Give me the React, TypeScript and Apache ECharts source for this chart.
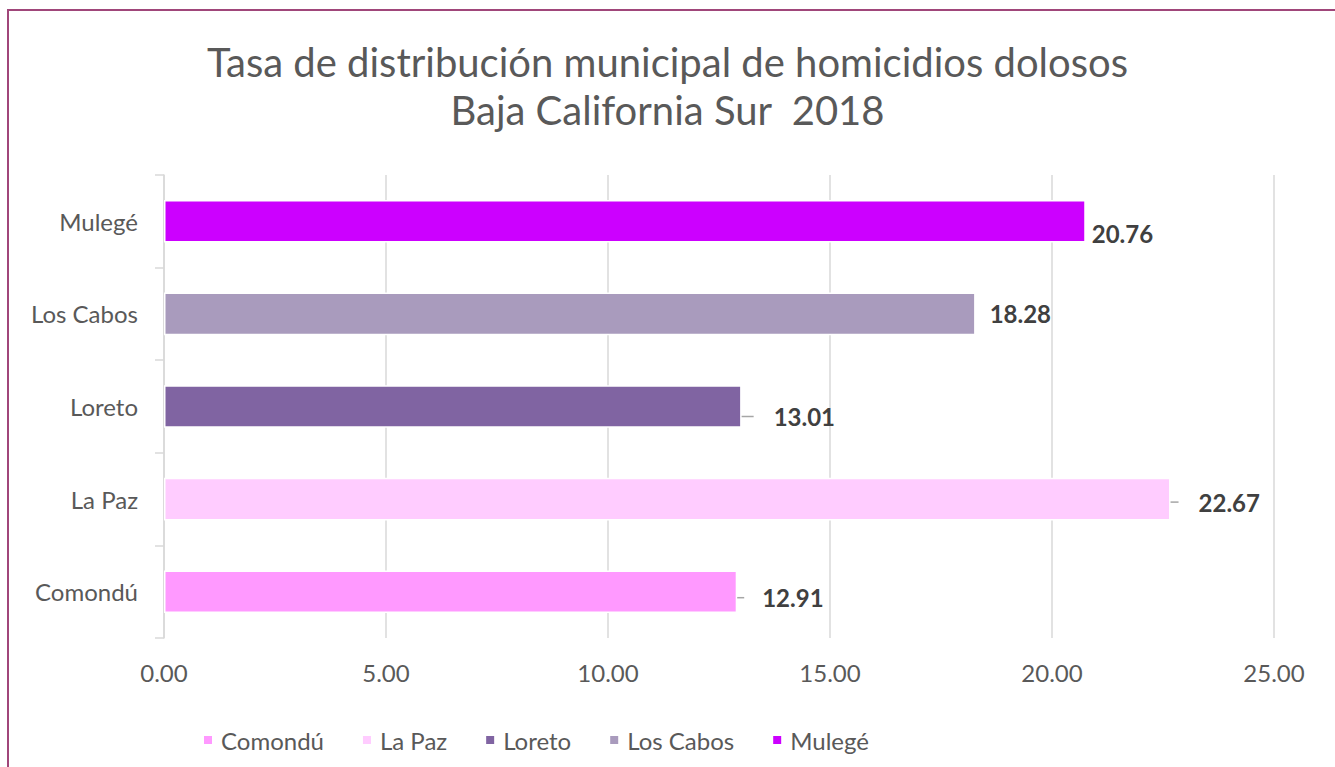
import React, { useEffect, useRef } from "react";
import * as echarts from "echarts";

const categories = ["Comondú", "La Paz", "Loreto", "Los Cabos", "Mulegé"];
const values = [12.91, 22.67, 13.01, 18.28, 20.76];
const colors = ["#FF99FF", "#FFCCFF", "#8064A2", "#A99BBD", "#CC00FF"];
const labelOffsets = [
  [5, 6],
  [6, 3],
  [10, 10],
  [0, 0],
  [-8, 12],
];
const labelPads = [18, 20, 20, 0, 0];
const xTicks = [0, 5, 10, 15, 20, 25];

export default function App() {
  const ref = useRef<HTMLDivElement>(null);
  useEffect(() => {
    const chart = echarts.init(ref.current!, undefined, { renderer: "svg" });
    const font = "Lato, 'Open Sans', sans-serif";
    const series = categories.map((name, i) => ({
      name,
      type: "bar",
      stack: "total",
      barWidth: "46%",
      data: categories.map((_, j) => (j === i ? values[i] : "-")),
      itemStyle: { color: colors[i], borderColor: "#ffffff", borderWidth: 1.5 },
      label: {
        show: true,
        position: "right",
        distance: labelPads[i] > 0 ? 2 : 14,
        formatter: (p: any) =>
          (labelPads[i] > 0 ? "{g|}" : "") + "{v|" + Number(p.value).toFixed(2) + "}",
        rich: {
          g: { width: labelPads[i], height: 10 },
          v: {
            fontFamily: font,
            fontSize: 24,
            fontWeight: "bold",
            color: "#404040",
          },
        },
        fontFamily: font,
        fontSize: 24,
        fontWeight: "bold",
        color: "#404040",
      },
      labelLayout: { dx: labelOffsets[i][0], dy: labelOffsets[i][1] },
      labelLine: {
        show: labelPads[i] > 0,
        length2: 6,
        lineStyle: { color: "#a6a6a6", width: 1.5 },
      },
    }));
    chart.setOption({
      animation: false,
      textStyle: { fontFamily: font },
      title: {
        text: "Tasa de distribución municipal de homicidios dolosos\nBaja California Sur  2018",
        left: "center",
        top: 33,
        textStyle: {
          fontFamily: font,
          fontSize: 40,
          fontWeight: "normal",
          color: "#595959",
          lineHeight: 48,
        },
      },
      legend: {
        left: 197,
        top: 723,
        icon: "rect",
        itemWidth: 10,
        itemHeight: 10,
        itemGap: 37,
        textStyle: { fontFamily: font, fontSize: 24, color: "#595959", padding: [0, 0, 0, 3] },
        data: categories,
      },
      grid: { left: 164, right: 61, top: 175, bottom: 129, containLabel: false },
      xAxis: {
        type: "value",
        min: xTicks[0],
        max: xTicks[xTicks.length - 1],
        interval: 5,
        axisLine: { show: false },
        axisTick: { show: false },
        axisLabel: {
          formatter: (v: number) => v.toFixed(2),
          fontFamily: font,
          fontSize: 24,
          color: "#595959",
          margin: 22,
        },
        splitLine: { lineStyle: { color: "#d9d9d9", width: 1.5 } },
      },
      yAxis: {
        type: "category",
        data: categories,
        axisLine: { show: true, lineStyle: { color: "#d9d9d9", width: 1.5 } },
        axisTick: { show: true, length: 9, lineStyle: { color: "#d9d9d9", width: 1.5 } },
        axisLabel: { fontFamily: font, fontSize: 24, color: "#595959", margin: 26 },
      },
      graphic: [
        {
          type: "rect",
          shape: { x: 8, y: 10, width: 1400, height: 800 },
          style: { fill: "none", stroke: "#A0467A", lineWidth: 2 },
          silent: true,
        },
      ],
      series,
    });
    return () => chart.dispose();
  }, []);
  return (
    <div
      ref={ref}
      style={{ position: "absolute", left: 0, top: 0, width: 1335, height: 767, background: "#fff" }}
    />
  );
}
